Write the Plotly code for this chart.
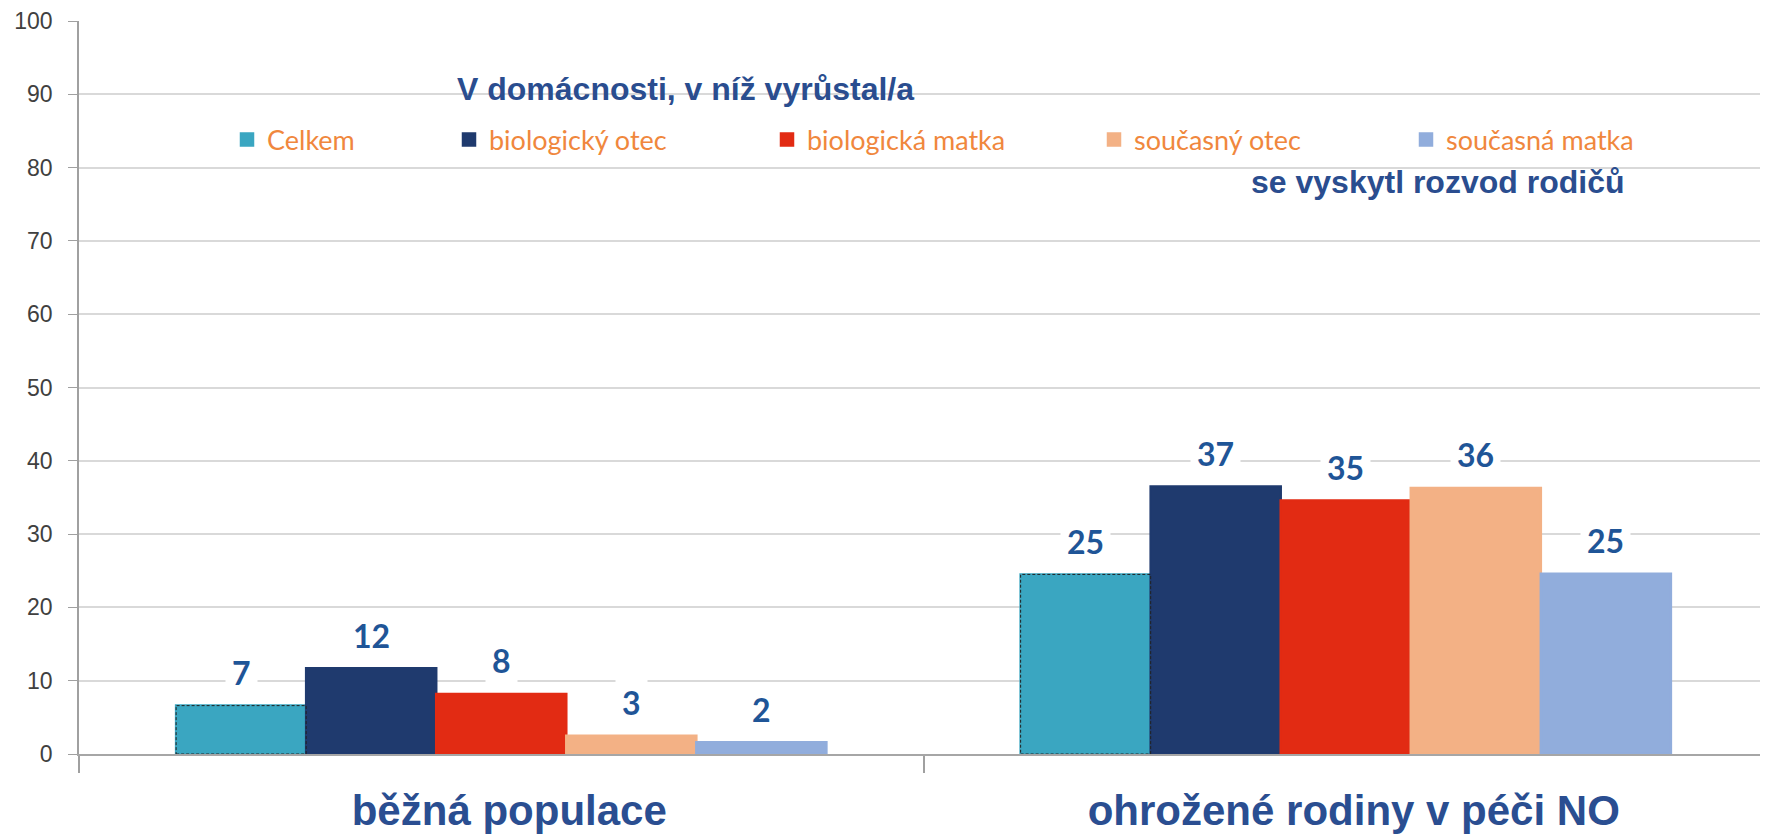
import plotly.graph_objects as go

categories = ["běžná populace", "ohrožené rodiny v péči NO"]
series_names = ["Celkem", "biologický otec", "biologická matka", "současný otec", "současná matka"]
celkem = [6.6, 24.5]
biol_otec = [11.7, 36.5]
biol_matka = [8.2, 34.6]
soucasny_otec = [2.5, 36.3]
soucasna_matka = [1.6, 24.6]
series_values = [celkem, biol_otec, biol_matka, soucasny_otec, soucasna_matka]
colors = ["#3AA6C1", "#1F3A6E", "#E22B13", "#F3B185", "#91ADDC"]
y_ticks = [0, 10, 20, 30, 40, 50, 60, 70, 80, 90, 100]
title_top = "V domácnosti, v níž vyrůstal/a"
title_bottom = "se vyskytl rozvod rodičů"

# page layout (browser body has an 8px margin)
OFF = 8
W, H = 1760, 826
PL, PT, PR, PB = 79, 21, 1768, 754          # plot area in page pixels
ML, MT = PL - OFF, PT - OFF
MR, MB = (OFF + W) - PR, (OFF + H) - PB
plot_w = PR - PL
plot_h = PB - PT


def px(x):
    return (x - PL) / plot_w


def py(y):
    return (PB - y) / plot_h


bargap = 0.23
n = len(series_names)
bw = (1 - bargap) / n

legend_sym_left = [244, 466, 784, 1111, 1423]
legend_sym_cy = 140

fig = go.Figure()
legend_ids = ["legend", "legend2", "legend3", "legend4", "legend5"]
for j, (name, vals, col) in enumerate(zip(series_names, series_values, colors)):
    fig.add_trace(go.Bar(
        x=categories, y=vals, name=name,
        marker=dict(color=col, line=dict(width=2.5, color=col)),
        legend=legend_ids[j], showlegend=True,
    ))

layout_legends = {}
for j, lid in enumerate(legend_ids):
    layout_legends[lid] = dict(
        orientation="h",
        x=px(legend_sym_left[j] - 17),
        xanchor="left",
        y=py(legend_sym_cy),
        yanchor="middle",
        bgcolor="rgba(0,0,0,0)",
        borderwidth=0,
        font=dict(family="Lato, Calibri, sans-serif", size=27, color="#F0873D"),
        itemclick=False,
        visible=True,
    )

annotations = []
for j, vals in enumerate(series_values):
    for i, v in enumerate(vals):
        annotations.append(dict(
            x=i + (j - (n - 1) / 2) * bw, y=v, xref="x", yref="y",
            text=f"{v:.0f}" if abs(v - round(v)) != 0.5 else f"{int(v + 0.5)}",
            showarrow=False, yanchor="middle", yshift=33,
            font=dict(family="Lato, Calibri, sans-serif", size=32, color="#1F5597", weight="bold"),
            bgcolor="white", borderpad=6,
        ))

annotations.append(dict(
    x=px(455), y=py(89), xref="paper", yref="paper",
    text=title_top, showarrow=False, xanchor="left", yanchor="middle",
    font=dict(family="Liberation Sans, Arial, sans-serif", size=32, color="#2A4D8F", weight="bold"),
))
annotations.append(dict(
    x=px(1626), y=py(182), xref="paper", yref="paper",
    text=title_bottom, showarrow=False, xanchor="right", yanchor="middle",
    font=dict(family="Liberation Sans, Arial, sans-serif", size=32, color="#2A4D8F", weight="bold"),
))

shapes = [dict(
    type="rect", xref="paper", yref="paper",
    x0=px(436), x1=px(1641), y0=py(200), y1=py(62),
    fillcolor="white", line=dict(width=0), layer="between",
)]
for i, v in enumerate(celkem):
    shapes.append(dict(
        type="rect", xref="x", yref="y",
        x0=i - n / 2 * bw, x1=i - (n / 2 - 1) * bw, y0=0, y1=v,
        line=dict(color="#222222", width=1, dash="3px,2px"),
        fillcolor="rgba(0,0,0,0)", layer="above",
    ))

fig.update_layout(
    width=W, height=H,
    margin=dict(l=ML, r=MR, t=MT, b=MB, autoexpand=False),
    paper_bgcolor="white", plot_bgcolor="white",
    barmode="group", bargap=bargap, bargroupgap=0,
    annotations=annotations, shapes=shapes,
    showlegend=True,
    **layout_legends,
)
fig.update_xaxes(
    type="category", categoryorder="array", categoryarray=categories,
    tickson="boundaries", ticks="outside", ticklen=17, tickwidth=1.5, tickcolor="#A0A0A0",
    showline=True, linecolor="#A6A6A6", linewidth=1.5, showgrid=False,
    tickfont=dict(family="Liberation Sans, Arial, sans-serif", size=42, color="#2A4E91", weight="bold"),
    ticklabelstandoff=19, ticklabelshift=8, automargin=False, ticklabeloverflow="allow",
)
fig.update_yaxes(
    range=[0, 100], tickvals=y_ticks, showgrid=True, gridcolor="#D9D9D9", gridwidth=1.5,
    showline=True, linecolor="#A0A0A0", linewidth=1.5, ticks="outside", ticklen=9,
    tickcolor="#A0A0A0", zeroline=False,
    tickfont=dict(family="Liberation Sans, Arial, sans-serif", size=23, color="#404040"),
    ticklabelstandoff=11, automargin=False, ticklabeloverflow="allow",
)

fig.write_html("out.html")
